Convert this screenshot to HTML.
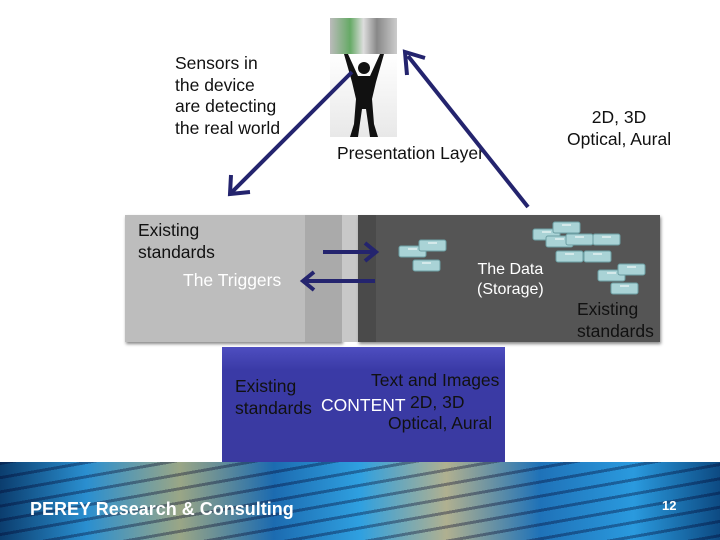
<!DOCTYPE html>
<html><head><style>
body{margin:0;width:720px;height:540px;background:#fff;position:relative;overflow:hidden;font-family:"Liberation Sans",sans-serif;}
.a{position:absolute;}
.t{position:absolute;font-size:17.5px;line-height:21.5px;color:#111;white-space:nowrap;}
</style></head><body>
<div class="a" style="left:330px;top:18px;width:67px;height:36px;background:linear-gradient(90deg,#bbb,#6a6 30%,#ddd 50%,#888 70%,#ccc);"></div>
<div class="a" style="left:330px;top:54px;width:67px;height:83px;background:linear-gradient(#fff,#e8e8e8);"></div>
<svg class="a" style="left:330px;top:54px" width="67" height="83"><path d="M14 0 L22 28 L26 45 L24 70 L20 83 L28 83 L32 55 L36 55 L40 83 L48 83 L44 70 L42 45 L46 28 L54 0 L50 0 L40 22 L28 22 L18 0Z" fill="#111"/><circle cx="34" cy="14" r="6" fill="#111"/></svg>
<div class="t" style="left:175px;top:53px;">Sensors in<br>the device<br>are detecting<br>the real world</div>
<div class="t" style="left:337px;top:143px;">Presentation Layer</div>
<div class="t" style="left:567px;top:107px;text-align:center;">2D, 3D<br>Optical, Aural</div>
<div class="a" style="left:125px;top:215px;width:217px;height:127px;background:#bdbdbd;box-shadow:1px 2px 3px #888;"></div>
<div class="a" style="left:305px;top:215px;width:37px;height:127px;background:#aaa;"></div>
<div class="a" style="left:342px;top:215px;width:16px;height:127px;background:#c8c8c8;"></div>
<div class="a" style="left:358px;top:215px;width:302px;height:127px;background:#555;box-shadow:1px 2px 3px #888;"></div>
<div class="a" style="left:358px;top:215px;width:18px;height:127px;background:#4a4a4a;"></div>
<div class="t" style="left:138px;top:220px;">Existing<br>standards</div>
<div class="t" style="left:183px;top:270px;color:#fff;">The Triggers</div>
<div class="t" style="left:477px;top:260px;color:#fff;font-size:16px;line-height:20px;text-align:center;">The Data<br>(Storage)</div>
<div class="t" style="left:577px;top:299px;">Existing<br>standards</div>
<svg class="a" style="left:0;top:0" width="720" height="540">
<defs><g id="c"><rect x="0" y="0" width="27" height="11" rx="2" fill="#a9d3d6" stroke="#6b9ea2"/><line x1="9" y1="3" x2="18" y2="3" stroke="#fff"/></g></defs>
<use href="#c" x="399" y="246"/><use href="#c" x="419" y="240"/><use href="#c" x="413" y="260"/>
<use href="#c" x="533" y="229"/><use href="#c" x="553" y="222"/><use href="#c" x="546" y="236"/><use href="#c" x="566" y="234"/><use href="#c" x="593" y="234"/><use href="#c" x="556" y="251"/><use href="#c" x="584" y="251"/><use href="#c" x="598" y="270"/><use href="#c" x="618" y="264"/><use href="#c" x="611" y="283"/>
<g stroke="#24246e" stroke-width="4" fill="none">
<line x1="352" y1="72" x2="232" y2="192"/><polyline points="231,175 230,194 250,192"/>
<line x1="528" y1="207" x2="408" y2="56"/><polyline points="407,75 405,52 425,58"/>
<line x1="323" y1="252" x2="373" y2="252"/><polyline points="365,243 376,252 365,261"/>
<line x1="375" y1="281" x2="305" y2="281"/><polyline points="314,272 303,281 314,290"/>
</g></svg>
<div class="a" style="left:222px;top:347px;width:283px;height:115px;background:linear-gradient(#4e4ec0,#3a3aa6 20%,#3a3aa0);"></div>
<div class="t" style="left:235px;top:376px;">Existing<br>standards</div>
<div class="t" style="left:321px;top:395px;color:#fff;">CONTENT</div>
<div class="t" style="left:371px;top:370px;">Text and Images</div>
<div class="t" style="left:410px;top:392px;">2D, 3D</div>
<div class="t" style="left:388px;top:413px;">Optical, Aural</div>
<div class="a" style="left:0;top:462px;width:720px;height:78px;background:linear-gradient(90deg,#0b3d6e,#2a8fd0 12%,#9aa686 25%,#1c6bb0 38%,#2fa0e0 50%,#b0b090 62%,#1f72b8 75%,#2a9ade 88%,#0d4a82);"></div>
<div class="a" style="left:0;top:462px;width:720px;height:78px;background:repeating-linear-gradient(170deg,rgba(0,0,40,.35) 0 3px,transparent 3px 14px);"></div>
<div class="t" style="left:30px;top:499px;color:#fff;font-weight:bold;font-size:18px;">PEREY Research &amp; Consulting</div>
<div class="t" style="left:662px;top:495px;color:#fff;font-weight:bold;font-size:13px;">12</div>
</body></html>
